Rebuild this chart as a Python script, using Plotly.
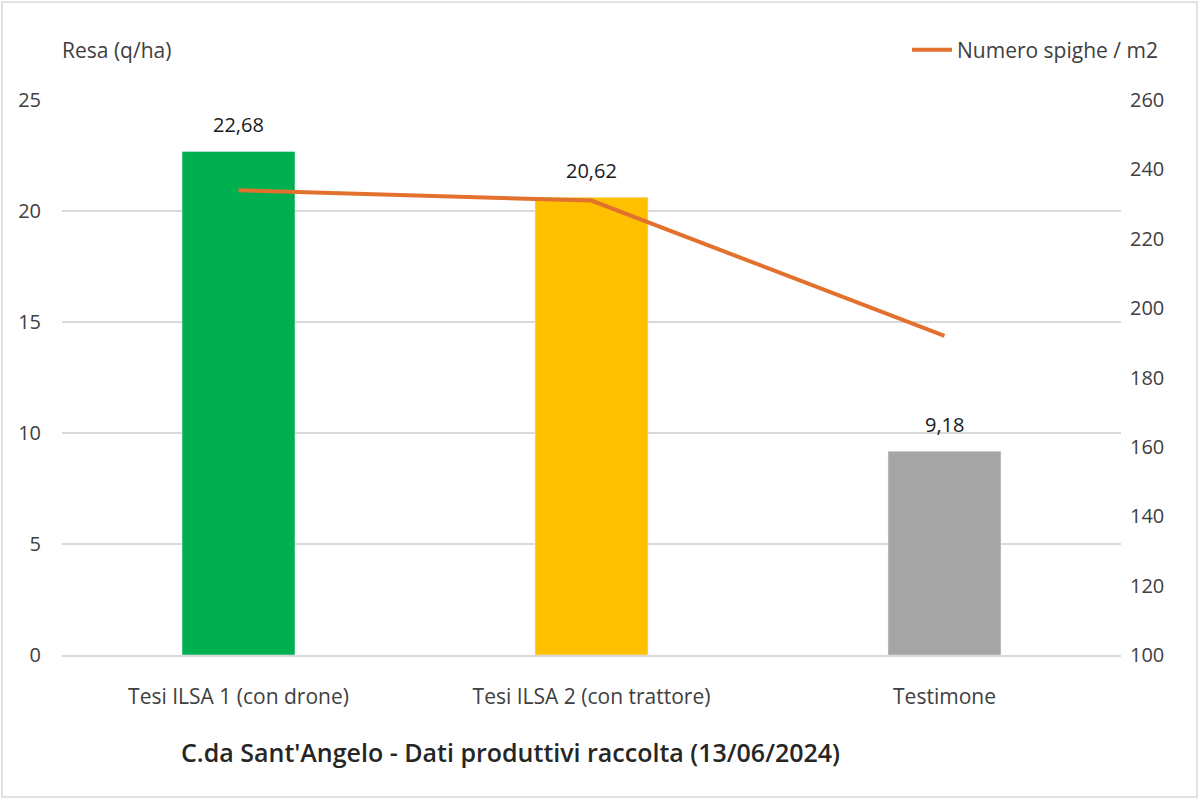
import plotly.graph_objects as go

categories = ["Tesi ILSA 1 (con drone)", "Tesi ILSA 2 (con trattore)", "Testimone"]
resa = [22.68, 20.62, 9.18]
resa_labels = ["22,68", "20,62", "9,18"]
spighe = [234, 231, 192]
bar_colors = ["#00B050", "#FFC000", "#A5A5A5"]
left_ticks = [0, 5, 10, 15, 20, 25]
right_ticks = [100, 120, 140, 160, 180, 200, 220, 240, 260]

FONT = "Open Sans, sans-serif"
W, H = 1200, 800
ml, mr, mt, mb = 62, 79, 100, 145
pw = W - ml - mr
ph = H - mt - mb

fig = go.Figure()
fig.add_trace(go.Bar(
    x=categories, y=resa, marker_color=bar_colors,
    showlegend=False, width=0.32,
))
fig.add_trace(go.Scatter(
    x=categories, y=spighe, yaxis="y2", mode="lines",
    line=dict(color="#E2712E", width=4), name="Numero spighe / m2",
))

annotations = [
    dict(x=c, y=v, text=t, xref="x", yref="y", showarrow=False,
         yanchor="middle", yshift=27, font=dict(size=20, color="#1a1a1a"))
    for c, v, t in zip(categories, resa, resa_labels)
]
annotations += [
    dict(text="Resa (q/ha)", xref="paper", yref="paper", x=-0.002, y=1 + 50 / ph,
         xanchor="left", yanchor="middle", showarrow=False,
         font=dict(size=21, color="#404040")),
    dict(text="C.da Sant'Angelo - Dati produttivi raccolta (13/06/2024)",
         xref="paper", yref="paper", x=(510 - ml) / pw, y=-(752 - mt - ph) / ph,
         xanchor="center", yanchor="middle", showarrow=False,
         font=dict(size=25, color="#262626", weight=600)),
]

fig.add_shape(type="rect", xref="paper", yref="paper",
              x0=-(ml - 2) / pw, x1=1 + (mr - 3) / pw,
              y0=-(mb - 3) / ph, y1=1 + (mt - 2) / ph,
              line=dict(color="#D9D9D9", width=1.5), layer="below")

fig.update_layout(
    width=W, height=H, margin=dict(l=ml, r=mr, t=mt, b=mb),
    paper_bgcolor="white", plot_bgcolor="white",
    font=dict(family=FONT, size=20, color="#404040"),
    xaxis=dict(showgrid=False, showline=True, linecolor="#D9D9D9", linewidth=1.5,
               tickfont=dict(size=21, color="#404040"), ticks="", ticklen=0,
               ticklabelstandoff=22),
    yaxis=dict(range=[0, 25], tickvals=left_ticks, showgrid=True, gridcolor="#D9D9D9",
               gridwidth=1.5, zeroline=False, tickfont=dict(size=20, color="#404040"),
               ticklabelstandoff=20),
    yaxis2=dict(range=[100, 260], tickvals=right_ticks, overlaying="y", side="right",
                showgrid=False, zeroline=False, tickfont=dict(size=20, color="#404040"),
                ticklabelstandoff=8),
    legend=dict(x=1 + 42 / pw, y=1 + 50 / ph, xanchor="right", yanchor="middle",
                font=dict(size=21, color="#404040"), bgcolor="rgba(0,0,0,0)",
                itemwidth=40),
    bargap=0.68,
    annotations=annotations,
)

fig.write_html("out.html")
